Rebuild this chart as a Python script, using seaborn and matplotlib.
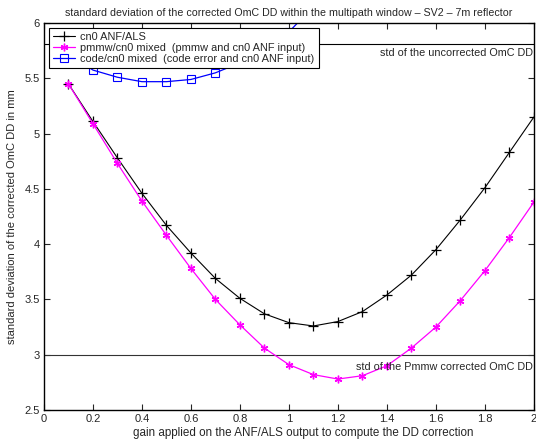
import numpy as np
import pandas as pd
import matplotlib
matplotlib.use("Agg")
import matplotlib.pyplot as plt
import seaborn as sns

gain = [0.1, 0.2, 0.3, 0.4, 0.5, 0.6, 0.7, 0.8, 0.9, 1.0,
        1.1, 1.2, 1.3, 1.4, 1.5, 1.6, 1.7, 1.8, 1.9, 2.0]
cn0_als = [5.45, 5.11, 4.78, 4.46, 4.17, 3.92, 3.69, 3.51, 3.37, 3.29,
           3.26, 3.30, 3.39, 3.54, 3.72, 3.95, 4.22, 4.51, 4.83, 5.15]
pmmw_mixed = [5.45, 5.09, 4.73, 4.39, 4.08, 3.78, 3.50, 3.27, 3.06, 2.91,
              2.82, 2.78, 2.81, 2.90, 3.06, 3.25, 3.49, 3.76, 4.06, 4.38]
gain_code = [0.1, 0.2, 0.3, 0.4, 0.5, 0.6, 0.7, 0.8, 0.9, 1.0, 1.1]
code_mixed = [5.72, 5.575, 5.51, 5.47, 5.47, 5.49, 5.55, 5.64, 5.76, 5.92, 6.15]

std_uncorrected = 5.81
std_pmmw = 3.0

labels = ["cn0 ANF/ALS",
          "pmmw/cn0 mixed  (pmmw and cn0 ANF input)",
          "code/cn0 mixed  (code error and cn0 ANF input)"]

sns.set_style("white")
plt.rcParams['font.family'] = ['Liberation Sans', 'DejaVu Sans']

fig = plt.figure(figsize=(5.36, 4.44), dpi=100)
ax = fig.add_axes([0.082, 0.0766, 0.914, 0.8714])

df1 = pd.DataFrame({"gain": gain, "std": cn0_als})
df2 = pd.DataFrame({"gain": gain, "std": pmmw_mixed})
df3 = pd.DataFrame({"gain": gain_code, "std": code_mixed})

ax.axhline(std_uncorrected, color="black", lw=0.8)
ax.axhline(std_pmmw, color="#333333", lw=0.8)

sns.lineplot(data=df1, x="gain", y="std", ax=ax, color="black", lw=0.8,
             marker="+", markersize=6.5, markeredgewidth=0.9,
             markeredgecolor="black", label=labels[0])
sns.lineplot(data=df2, x="gain", y="std", ax=ax, color="magenta", lw=0.9,
             marker=(6, 2, 0), markersize=5.5, markeredgewidth=1.0,
             markeredgecolor="magenta", label=labels[1])
sns.lineplot(data=df3, x="gain", y="std", ax=ax, color="blue", lw=0.9,
             marker="s", markersize=5.5, markerfacecolor="none",
             markeredgecolor="blue", markeredgewidth=0.8, label=labels[2])

ax.set_xlim(0, 2)
ax.set_ylim(2.5, 6)
ax.set_xticks(np.arange(0, 2.01, 0.2))
ax.set_xticklabels(["0", "0.2", "0.4", "0.6", "0.8", "1", "1.2", "1.4", "1.6", "1.8", "2"])
ax.set_yticks(np.arange(2.5, 6.01, 0.5))
ax.set_yticklabels(["2.5", "3", "3.5", "4", "4.5", "5", "5.5", "6"])
ax.tick_params(direction="in", length=4, width=0.8, labelsize=8,
               top=True, right=True, bottom=True, left=True, pad=3)
for s in ax.spines.values():
    s.set_color("black")
    s.set_linewidth(1.0)

ax.set_title("standard deviation of the corrected OmC DD within the multipath window \u2013 SV2 \u2013 7m reflector",
             fontsize=7.7, pad=5)
ax.set_xlabel("gain applied on the ANF/ALS output to compute the DD correction", fontsize=8.4, labelpad=1)
ax.xaxis.set_label_coords(0.53, -0.045)
ax.set_ylabel("standard deviation of the corrected OmC DD in mm", fontsize=8, labelpad=5)

ax.text(1.995, 5.73, "std of the uncorrected OmC DD", ha="right", va="center", fontsize=7.8)
ax.text(1.995, 2.89, "std of the Pmmw corrected OmC DD", ha="right", va="center", fontsize=7.8)

leg = ax.legend(loc="upper left", bbox_to_anchor=(0.01, 0.987), fontsize=7.9,
                frameon=True, fancybox=False, framealpha=1, edgecolor="black",
                borderpad=0.38, labelspacing=0.08, handlelength=2.0, handletextpad=0.5,
                borderaxespad=0)
leg.get_frame().set_linewidth(0.8)

fig.savefig("out.png", dpi=100)
